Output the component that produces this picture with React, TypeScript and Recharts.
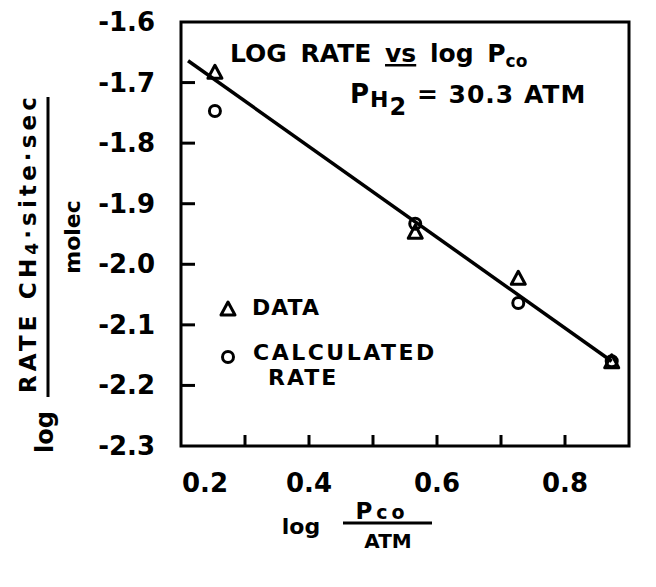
import { ReferenceArea, ReferenceLine, Scatter, ScatterChart, XAxis, YAxis } from "recharts";

const xValues = [0.253, 0.566, 0.727, 0.873];
const measured = [-1.683, -1.947, -2.023, -2.161];
const calculated = [-1.747, -1.933, -2.064, -2.16];

const fitX = [0.211, 0.873];
const fitY = [-1.664, -2.16];

const xTicks = [0.2, 0.3, 0.4, 0.5, 0.6, 0.7, 0.8, 0.9];
const xLabelled = [0.2, 0.4, 0.6, 0.8];
const yTicks = [-1.6, -1.7, -1.8, -1.9, -2.0, -2.1, -2.2, -2.3];

const FONT = "'DejaVu Sans', sans-serif";
const INK = "#000";

const dataPts = xValues.map((x, i) => ({ x, y: measured[i] }));
const calcPts = xValues.map((x, i) => ({ x, y: calculated[i] }));

function Tri({ cx, cy }: { cx?: number; cy?: number }) {
  if (cx == null || cy == null) return <g />;
  return (
    <path
      d={`M${cx},${cy - 7} L${cx + 7},${cy + 6} L${cx - 7},${cy + 6} Z`}
      fill="none"
      stroke={INK}
      strokeWidth={3}
      strokeLinejoin="round"
    />
  );
}

function Ring({ cx, cy }: { cx?: number; cy?: number }) {
  if (cx == null || cy == null) return <g />;
  return <circle cx={cx} cy={cy} r={5.5} fill="none" stroke={INK} strokeWidth={3} />;
}

function XTick(props: any) {
  const { x, y, payload } = props;
  const v = payload.value as number;
  const inner = v > 0.21 && v < 0.89;
  const lab = xLabelled.some((t) => Math.abs(t - v) < 1e-6);
  const first = Math.abs(v - 0.2) < 1e-6;
  return (
    <g>
      {inner && <line x1={x} x2={x} y1={y} y2={y - 11} stroke={INK} strokeWidth={3} />}
      {lab && (
        <text
          x={first ? x + 1 : x}
          y={y + 46}
          textAnchor={first ? "start" : "middle"}
          fontFamily={FONT}
          fontWeight={700}
          fontSize={26}
          fill={INK}
        >
          {v.toFixed(1)}
        </text>
      )}
    </g>
  );
}

function YTick(props: any) {
  const { x, y, payload } = props;
  const v = payload.value as number;
  const inner = v < -1.61 && v > -2.29;
  return (
    <g>
      {inner && <line x1={x} x2={x + 14} y1={y} y2={y} stroke={INK} strokeWidth={3} />}
      <text
        x={x - 26}
        y={y + 9}
        textAnchor="end"
        fontFamily={FONT}
        fontWeight={700}
        fontSize={26}
        fill={INK}
      >
        {v.toFixed(1)}
      </text>
    </g>
  );
}

export default function App() {
  const txt = { fontFamily: FONT, fontWeight: 700, fill: INK } as const;
  return (
    <div style={{ position: "relative", width: 640, height: 575, background: "#fff" }}>
      <ScatterChart width={640} height={575} margin={{ top: 14, right: 19, left: 0, bottom: 0 }}>
        <XAxis
          type="number"
          dataKey="x"
          domain={[0.2, 0.9]}
          ticks={xTicks}
          interval={0}
          height={137}
          tickSize={0}
          tickMargin={0}
          axisLine={false}
          tickLine={false}
          tick={<XTick />}
          allowDataOverflow
        />
        <YAxis
          type="number"
          dataKey="y"
          domain={[-2.3, -1.6]}
          ticks={yTicks}
          interval={0}
          width={173}
          tickSize={0}
          tickMargin={0}
          axisLine={false}
          tickLine={false}
          tick={<YTick />}
          allowDataOverflow
        />
        <ReferenceArea
          x1={0.2}
          x2={0.9}
          y1={-2.3}
          y2={-1.6}
          fill="none"
          fillOpacity={0}
          stroke={INK}
          strokeWidth={3}
          ifOverflow="visible"
        />
        <ReferenceLine
          segment={[
            { x: fitX[0], y: fitY[0] },
            { x: fitX[1], y: fitY[1] },
          ]}
          stroke={INK}
          strokeWidth={3.5}
          ifOverflow="visible"
        />
        <Scatter data={calcPts} shape={(p: any) => <Ring cx={p.cx} cy={p.cy} />} isAnimationActive={false} />
        <Scatter data={dataPts} shape={(p: any) => <Tri cx={p.cx} cy={p.cy} />} isAnimationActive={false} />
      </ScatterChart>

      <svg
        width={640}
        height={575}
        style={{ position: "absolute", left: 0, top: 0, pointerEvents: "none" }}
      >
        {/* title inside plot */}
        <text x={222} y={54} fontSize={25} wordSpacing={5} {...txt}>
          LOG RATE{" "}
          <tspan textDecoration="underline">vs</tspan> log P
          <tspan fontSize={17} dy={5}>
            co
          </tspan>
        </text>
        <text x={342} y={95} fontSize={26} letterSpacing={1} {...txt}>
          P
          <tspan fontSize={22} dy={4}>
            H
          </tspan>
          <tspan fontSize={24} dy={8}>
            2
          </tspan>
          <tspan dy={-12} fontSize={25}>
            {" "}= 30.3 ATM
          </tspan>
        </text>

        {/* legend */}
        <Tri cx={220} cy={301} />
        <text x={244} y={307} fontSize={22} letterSpacing={1} {...txt}>
          DATA
        </text>
        <Ring cx={220} cy={349} />
        <text x={245} y={352} fontSize={22} letterSpacing={2.5} {...txt}>
          CALCULATED
        </text>
        <text x={260} y={377} fontSize={22} letterSpacing={2} {...txt}>
          RATE
        </text>

        {/* y axis title */}
        <g transform="rotate(-90, 20, 237)">
          <text x={20} y={237} textAnchor="middle" dominantBaseline="central" fontSize={23} {...txt} textLength={296} lengthAdjust="spacing">
            RATE CH
            <tspan fontSize={17} dy={4}>
              4
            </tspan>
            <tspan dy={-4}>·site·sec</tspan>
          </text>
        </g>
        <line x1={40} x2={40} y1={89} y2={389} stroke={INK} strokeWidth={3} />
        <g transform="rotate(-90, 64, 229)">
          <text x={64} y={229} textAnchor="middle" dominantBaseline="central" fontSize={22} {...txt}>
            molec
          </text>
        </g>
        <g transform="rotate(-90, 37, 424)">
          <text x={37} y={424} textAnchor="middle" dominantBaseline="central" fontSize={24} {...txt}>
            log
          </text>
        </g>

        {/* x axis title */}
        <text x={293} y={526} textAnchor="middle" fontSize={22} {...txt}>
          log
        </text>
        <text x={374} y={511} textAnchor="middle" fontSize={23} letterSpacing={4} {...txt}>
          P<tspan fontSize={19}>co</tspan>
        </text>
        <line x1={335} x2={424} y1={515} y2={515} stroke={INK} strokeWidth={3} />
        <text x={380} y={540} textAnchor="middle" fontSize={20} {...txt}>
          ATM
        </text>
      </svg>
    </div>
  );
}
